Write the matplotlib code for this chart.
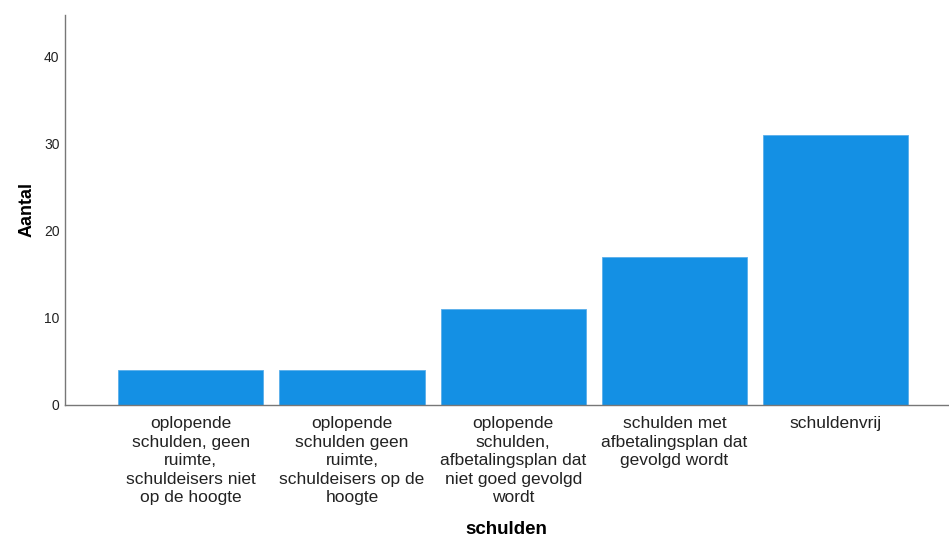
import matplotlib
matplotlib.use("Agg")
import matplotlib.pyplot as plt

categories = [
    "oplopende\nschulden, geen\nruimte,\nschuldeisers niet\nop de hoogte",
    "oplopende\nschulden geen\nruimte,\nschuldeisers op de\nhoogte",
    "oplopende\nschulden,\nafbetalingsplan dat\nniet goed gevolgd\nwordt",
    "schulden met\nafbetalingsplan dat\ngevolgd wordt",
    "schuldenvrij",
]
counts = [4, 4, 11, 17, 31]
yticks = [0, 10, 20, 30, 40]

plt.rcParams['font.family'] = ['Liberation Sans', 'DejaVu Sans']

fig = plt.figure(figsize=(9.49, 5.42), dpi=100)
ax = fig.add_axes([0.0685, 0.2528, 0.931, 0.7195])
x = list(range(len(categories)))
ax.bar(x, counts, width=0.9, color="#1490E4", edgecolor="#5AAEEA", linewidth=0.6)
ax.set_xlim(-0.78, 4.70)
ax.set_ylim(0, 44.7)
ax.set_yticks(yticks)
ax.set_yticklabels([str(t) for t in yticks], fontsize=10, color="#222222")
ax.set_xticks(x)
ax.set_xticklabels(categories, fontsize=12.5, color="#222222", linespacing=1.3)
ax.tick_params(axis="both", length=0)
ax.tick_params(axis="y", pad=4)
ax.tick_params(axis="x", pad=8)
for s in ["top", "right"]:
    ax.spines[s].set_visible(False)
for s in ["left", "bottom"]:
    ax.spines[s].set_color("#777777")
    ax.spines[s].set_linewidth(1.0)
ax.set_ylabel("Aantal", fontsize=13, fontweight="bold", labelpad=6)
ax.set_xlabel("schulden", fontsize=13.5, fontweight="bold", labelpad=11)
fig.savefig("out.png", dpi=100)
